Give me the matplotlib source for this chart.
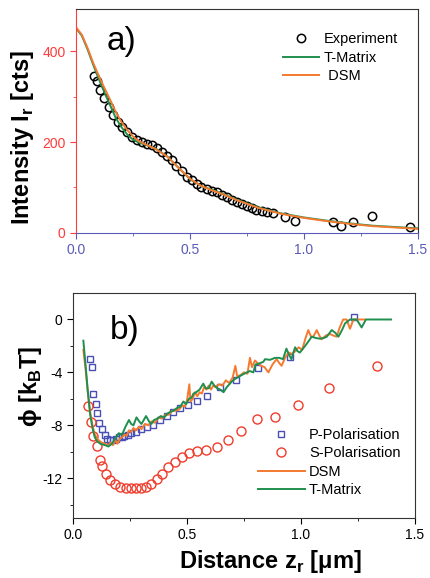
import matplotlib
matplotlib.use("Agg")
import matplotlib.pyplot as plt

plt.rcParams['font.family'] = ['Liberation Sans', 'DejaVu Sans']
plt.rcParams['mathtext.fontset'] = 'custom'
plt.rcParams['mathtext.rm'] = 'Liberation Sans'
plt.rcParams['mathtext.bf'] = 'Liberation Sans:bold'
plt.rcParams['axes.unicode_minus'] = False

# =========================
# Data: panel a) intensity
# =========================
exp_x = [0.080, 0.091, 0.105, 0.124, 0.145, 0.164, 0.183, 0.200, 0.222, 0.244,
         0.266, 0.288, 0.310, 0.332, 0.354, 0.376, 0.398, 0.420, 0.440, 0.463,
         0.485, 0.507, 0.530, 0.550, 0.573, 0.595, 0.617, 0.639, 0.660, 0.683,
         0.705, 0.727, 0.749, 0.770, 0.790, 0.814, 0.836, 0.865, 0.917, 0.960,
         1.129, 1.161, 1.214, 1.300, 1.465]
exp_y = [345, 334, 315, 296, 277, 259, 245, 232, 221, 212,
         205, 200, 196, 193, 187, 179, 170, 160, 148, 136,
         124, 116, 108, 102, 97, 93, 89, 84, 79, 73,
         68, 63, 59, 55, 51, 48, 46, 43, 34, 27,
         25, 16, 23, 37, 12]

calc_x = [0.0, 0.025, 0.05, 0.075, 0.1, 0.125, 0.15, 0.175, 0.2, 0.225, 0.25,
          0.275, 0.3, 0.35, 0.4, 0.45, 0.5, 0.55, 0.6, 0.65, 0.7, 0.8, 0.9,
          1.0, 1.1, 1.2, 1.3, 1.4, 1.5]
dsm_a = [452, 436, 407, 374, 345, 318, 292, 265, 243, 226, 212,
         202, 196, 184, 168, 143, 119, 103, 93, 84, 73, 55, 42,
         33, 26, 20, 15, 12, 9]
tmat_a = [450, 434, 404, 370, 338, 308, 280, 252, 232, 216, 205,
          199, 195, 185, 168, 143, 118, 103, 94, 85, 74, 56, 43,
          34, 27, 21, 16, 13, 10]

# =========================
# Data: panel b) potential
# =========================
p_x = [0.076, 0.085, 0.088, 0.100, 0.106, 0.115, 0.125, 0.138, 0.150, 0.163,
       0.175, 0.188, 0.200, 0.213, 0.225, 0.240, 0.255, 0.275, 0.300, 0.325,
       0.352, 0.382, 0.411, 0.440, 0.469, 0.506, 0.542, 0.589, 0.645, 0.715,
       0.813, 0.950, 1.232]
p_y = [-3.0, -3.6, -5.6, -6.4, -7.1, -7.8, -8.3, -8.7, -9.0, -9.1,
       -9.1, -9.0, -8.9, -8.9, -8.8, -8.7, -8.6, -8.5, -8.3, -8.1,
       -8.0, -7.6, -7.3, -7.0, -6.7, -6.5, -6.2, -5.8, -5.1, -4.6,
       -3.7, -2.8, 0.2]

s_x = [0.067, 0.078, 0.089, 0.104, 0.116, 0.129, 0.145, 0.162, 0.185, 0.207,
       0.230, 0.252, 0.275, 0.298, 0.320, 0.343, 0.366, 0.389, 0.418, 0.447,
       0.477, 0.510, 0.545, 0.583, 0.630, 0.681, 0.737, 0.806, 0.886, 0.988,
       1.124, 1.332]
s_y = [-6.55, -7.75, -8.8, -9.6, -10.6, -11.1, -11.7, -12.15, -12.45, -12.65,
       -12.75, -12.75, -12.75, -12.75, -12.65, -12.45, -12.05, -11.65, -11.15, -10.77,
       -10.4, -10.1, -9.95, -9.85, -9.65, -9.1, -8.45, -7.55, -7.4, -6.45,
       -5.15, -3.55]

dsm_x = [0.045, 0.055, 0.065, 0.075, 0.085, 0.095, 0.110, 0.125, 0.140, 0.155,
         0.165, 0.175, 0.185, 0.195, 0.205, 0.215, 0.225, 0.235, 0.245, 0.255,
         0.265, 0.275, 0.290, 0.300, 0.315, 0.330, 0.345, 0.360, 0.375, 0.390,
         0.405, 0.420, 0.435, 0.450, 0.465, 0.480, 0.490, 0.500, 0.510, 0.515,
         0.525, 0.535, 0.545, 0.555, 0.565, 0.575, 0.585, 0.595, 0.605, 0.615,
         0.625, 0.640, 0.655, 0.670, 0.685, 0.700, 0.712, 0.720, 0.735, 0.750,
         0.765, 0.776, 0.785, 0.798, 0.810, 0.825, 0.840, 0.857, 0.875, 0.893,
         0.905, 0.915, 0.930, 0.945, 0.960, 0.975, 0.990, 1.005, 1.020, 1.032,
         1.044, 1.054, 1.069, 1.080, 1.090, 1.110, 1.127, 1.140, 1.156, 1.170,
         1.185, 1.200, 1.215, 1.230, 1.280]
dsm_y = [-2.3, -3.8, -5.6, -7.0, -8.0, -8.7, -9.1, -9.3, -9.4, -9.5,
         -9.3, -9.5, -9.1, -9.4, -9.0, -8.9, -8.7, -8.8, -8.4, -8.5,
         -8.2, -8.4, -8.1, -8.3, -7.9, -8.0, -7.7, -7.8, -7.4, -7.5,
         -7.2, -7.2, -6.9, -6.9, -6.8, -6.5, -6.6, -6.1, -4.9, -6.2,
         -6.0, -5.5, -5.8, -5.5, -5.6, -5.1, -5.3, -5.0, -5.3, -5.0,
         -5.1, -4.9, -5.0, -4.6, -4.8, -4.4, -3.5, -4.3, -4.2, -4.0,
         -4.1, -2.9, -3.6, -3.1, -3.3, -3.5, -3.6, -4.0, -3.4, -3.0,
         -3.3, -3.5, -2.9, -2.5, -2.6, -2.4, -2.1, -2.3, -1.4, -0.8,
         -1.3, -1.3, -0.8, -1.2, -1.5, -1.2, -1.1, -1.2, -1.3, -0.6,
         0.0, 0.0, -0.7, 0.0, 0.0]

tmat_x = [0.045, 0.055, 0.065, 0.075, 0.085, 0.095, 0.105, 0.120, 0.140, 0.155,
          0.170, 0.185, 0.200, 0.215, 0.230, 0.245, 0.255, 0.265, 0.278, 0.290,
          0.300, 0.310, 0.320, 0.333, 0.343, 0.355, 0.370, 0.385, 0.400, 0.415,
          0.425, 0.440, 0.455, 0.470, 0.484, 0.496, 0.508, 0.520, 0.528, 0.540,
          0.555, 0.571, 0.582, 0.595, 0.608, 0.620, 0.632, 0.646, 0.660, 0.675,
          0.696, 0.710, 0.725, 0.740, 0.762, 0.776, 0.791, 0.800, 0.813, 0.835,
          0.842, 0.864, 0.886, 0.905, 0.921, 0.936, 0.948, 0.958, 0.974, 0.985,
          0.995, 1.018, 1.035, 1.047, 1.065, 1.083, 1.100, 1.113, 1.135, 1.150,
          1.164, 1.180, 1.193, 1.215, 1.244, 1.266, 1.285, 1.395]
tmat_y = [-1.6, -3.5, -5.5, -7.2, -8.2, -8.9, -9.2, -9.4, -9.5, -9.6,
          -9.4, -9.0, -8.6, -8.7, -8.1, -7.6, -7.9, -8.0, -7.4, -7.7,
          -7.9, -7.6, -7.3, -7.7, -7.9, -7.6, -7.5, -7.3, -7.4, -7.1,
          -7.0, -6.9, -6.7, -6.6, -6.2, -6.4, -6.0, -5.9, -5.6, -5.5,
          -5.3, -4.85, -5.2, -5.2, -4.7, -5.0, -5.2, -5.3, -5.5, -5.1,
          -4.7, -4.5, -4.35, -4.2, -4.0, -3.9, -4.0, -3.4, -3.35, -3.2,
          -3.0, -3.05, -2.9, -2.9, -3.0, -2.2, -2.7, -3.0, -2.1, -2.4,
          -2.5, -2.0, -1.6, -1.3, -1.4, -1.45, -1.4, -1.3, -0.8, -1.0,
          -1.3, -0.8, -0.3, 0.0, 0.0, -0.6, 0.0, 0.0]

# =========================
# Colours
# =========================
green = "#1f8f4e"
orange = "#f47a30"
blue = "#4a4fb3"
red = "#f03c2c"
axis_red = "#ff3b3b"
axis_blue = "#5a5ab8"
frame = "#333333"

fig = plt.figure(figsize=(4.3, 5.78), dpi=100)

# =========================
# Panel a)
# =========================
ax1 = fig.add_axes([0.177, 0.597, 0.795, 0.387])
ax1.plot(exp_x, exp_y, "o", mfc="none", mec="black", ms=6, mew=1.1, label="Experiment")
ax1.plot(calc_x, tmat_a, color=green, lw=1.4, label="T-Matrix")
ax1.plot(calc_x, dsm_a, color=orange, lw=1.4, label=" DSM")
ax1.set_xlim(0, 1.5)
ax1.set_ylim(0, 492)
ax1.set_xticks([0.0, 0.5, 1.0, 1.5])
ax1.set_xticks([0.25, 0.75, 1.25], minor=True)
ax1.set_xticklabels(["0.0", "0.5", "1.0", "1.5"])
ax1.set_yticks([0, 200, 400])
ax1.set_yticks([100, 300], minor=True)
for s in ["top", "right"]:
    ax1.spines[s].set_color(frame)
ax1.spines["left"].set_color(axis_red)
ax1.spines["bottom"].set_color(axis_blue)
ax1.tick_params(axis="y", colors=axis_red, labelsize=10, which="both")
ax1.tick_params(axis="x", colors=axis_blue, labelsize=10, which="both")
ax1.tick_params(which="major", length=4)
ax1.tick_params(which="minor", length=2.5)
ax1.text(0.136, 420, "a)", fontsize=24, va="center", ha="left")
ax1.legend(loc="upper left", bbox_to_anchor=(0.605, 0.897), frameon=False,
           fontsize=10.5, handlelength=2.5, handletextpad=0.3, labelspacing=0.3,
           borderpad=0, borderaxespad=0)

fig.text(0.052, 0.762, r"Intensity I$_\mathbf{r}$ [cts]", rotation=90,
         fontsize=17, fontweight="bold", ha="center", va="center")

# =========================
# Panel b)
# =========================
ax2 = fig.add_axes([0.170, 0.104, 0.795, 0.389])
ax2.plot(p_x, p_y, "s", mfc="none", mec=blue, ms=5, mew=1.0, label="P-Polarisation")
ax2.plot(s_x, s_y, "o", mfc="none", mec=red, ms=6.5, mew=1.0, label="S-Polarisation")
ax2.plot(dsm_x, dsm_y, color=orange, lw=1.4, label="DSM")
ax2.plot(tmat_x, tmat_y, color=green, lw=1.4, label="T-Matrix")
ax2.set_xlim(0, 1.5)
ax2.set_ylim(-15, 2)
ax2.set_xticks([0.0, 0.5, 1.0, 1.5])
ax2.set_xticks([0.25, 0.75, 1.25], minor=True)
ax2.set_xticklabels(["0.0", "0.5", "1.0", "1.5"])
ax2.set_yticks([0, -4, -8, -12])
ax2.set_yticks([-2, -6, -10, -14], minor=True)
for s in ax2.spines.values():
    s.set_color(frame)
ax2.tick_params(labelsize=10, colors="black", which="both")
ax2.tick_params(which="major", length=4)
ax2.tick_params(which="minor", length=2.5)
ax2.text(0.162, -0.83, "b)", fontsize=24, va="center", ha="left")
ax2.legend(loc="upper left", bbox_to_anchor=(0.541, 0.40), frameon=False,
           fontsize=10.5, handlelength=3.2, handletextpad=0.3, labelspacing=0.3,
           borderpad=0, borderaxespad=0)

fig.text(0.07, 0.332, r"ϕ [k$_\mathbf{B}$T]", rotation=90,
         fontsize=17, fontweight="bold", ha="center", va="center")
fig.text(0.628, 0.028, r"Distance z$_\mathbf{r}$ [μm]",
         fontsize=17, fontweight="bold", ha="center", va="center")

plt.savefig("out.png", dpi=100)
